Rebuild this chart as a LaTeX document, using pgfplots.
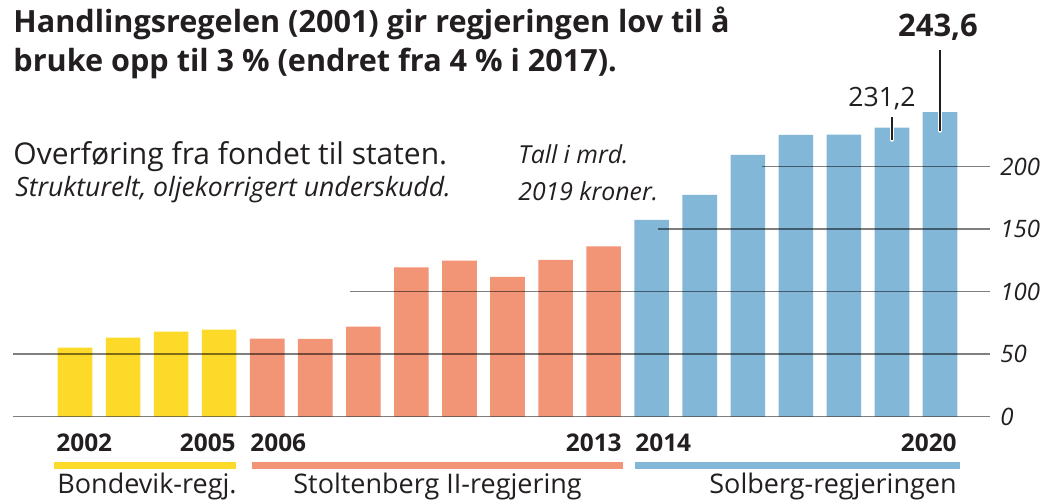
\documentclass[border=0pt]{standalone}
\usepackage{pgfplots}
\pgfplotsset{compat=1.18}
\usepackage{fontspec}
\setmainfont{Open Sans}
\definecolor{cy}{HTML}{FDDA2A}
\definecolor{cs}{HTML}{F29476}
\definecolor{cb}{HTML}{82B7D8}
\definecolor{tc}{HTML}{231F20}
\newcommand\fs[1]{\fontsize{#1}{#1}\selectfont}
\tikzset{tl/.style={anchor=west, inner sep=0pt, xshift=5pt, text=tc, font=\fs{12}\itshape}}
\begin{document}
\begin{tikzpicture}[x=0.5pt,y=0.5pt]
\path[use as bounding box] (0,0) rectangle (1043,502);
\begin{axis}[
  at={(6.5pt,42.65pt)}, anchor=south west,
  scale only axis, width=488.5pt, height=162.5pt,
  xmin=-1.29, xmax=19.04, ymin=0, ymax=260,
  clip=false,
  axis line style={draw=none},
  xtick=\empty, ytick=\empty,
]
\addplot[ybar, bar shift=0pt, bar width=0.72, fill=cy, draw=none]
  coordinates {(0,55.2) (1,63.2) (2,68) (3,69.6)};
\addplot[ybar, bar shift=0pt, bar width=0.72, fill=cs, draw=none]
  coordinates {(4,62.4) (5,62.2) (6,72) (7,119.5) (8,124.8) (9,111.8) (10,125.4) (11,136.2)};
\addplot[ybar, bar shift=0pt, bar width=0.72, fill=cb, draw=none]
  coordinates {(12,157.4) (13,177.4) (14,209.4) (15,225.4) (16,225.6) (17,231.2) (18,243.6)};
\draw[black, opacity=0.5, line width=0.7pt] (axis cs:-1.29,0) -- (axis cs:19.04,0);
\draw[black, opacity=0.5, line width=0.7pt] (axis cs:-1.29,50) -- (axis cs:19.04,50);
\draw[black, opacity=0.5, line width=0.7pt] (axis cs:5.72,100) -- (axis cs:19.04,100);
\draw[black, opacity=0.5, line width=0.7pt] (axis cs:12.13,150) -- (axis cs:19.04,150);
\draw[black, opacity=0.5, line width=0.7pt] (axis cs:14.29,200) -- (axis cs:19.04,200);
\node[tl] at (axis cs:19.04,0) {0};
\node[tl] at (axis cs:19.04,50) {50};
\node[tl] at (axis cs:19.04,100) {100};
\node[tl] at (axis cs:19.04,150) {150};
\node[tl] at (axis cs:19.04,200) {200};
\draw[white, line width=1.8pt, line cap=round] (axis cs:17,221.4) -- (axis cs:17,232);
\draw[tc, line width=0.6pt] (axis cs:17,221.4) -- (axis cs:17,239.8);
\draw[white, line width=1.8pt, line cap=round] (axis cs:18,228.6) -- (axis cs:18,245);
\draw[tc, line width=0.6pt] (axis cs:18,228.6) -- (axis cs:18,293);
\end{axis}
\begin{scope}[every node/.style={inner sep=0pt, text=tc}]
\node[anchor=base west, font=\fs{15.3}\bfseries] at (13,469) {Handlingsregelen (2001) gir regjeringen lov til å};
\node[anchor=base west, font=\fs{15.3}\bfseries] at (13,430) {bruke opp til 3 \% (endret fra 4 \% i 2017).};
\node[anchor=base west, font=\fs{15}] at (13,337) {Overføring fra fondet til staten.};
\node[anchor=base west, font=\fs{13.3}\itshape] at (15,305) {Strukturelt, oljekorrigert underskudd.};
\node[anchor=base west, font=\fs{12.4}\itshape] at (518,338) {Tall i mrd.};
\node[anchor=base west, font=\fs{12.4}\itshape] at (518,301) {2019 kroner.};
\node[anchor=base, font=\fs{13.3}] at (882,395) {231,2};
\node[anchor=base, font=\fs{15.5}\bfseries] at (938,465) {243,6};
\node[anchor=base west, font=\fs{12.2}\bfseries] at (56,50.3) {2002};
\node[anchor=base east, font=\fs{12.2}\bfseries] at (236,50.3) {2005};
\node[anchor=base west, font=\fs{12.2}\bfseries] at (250,50.3) {2006};
\node[anchor=base east, font=\fs{12.2}\bfseries] at (622,50.3) {2013};
\node[anchor=base west, font=\fs{12.2}\bfseries] at (635,50.3) {2014};
\node[anchor=base east, font=\fs{12.2}\bfseries] at (957,50.3) {2020};
\node[anchor=base west, font=\fs{13.5}] at (57,8.7) {Bondevik-regj.};
\node[anchor=base west, font=\fs{13.5}] at (293,8.7) {Stoltenberg II-regjering};
\node[anchor=base east, font=\fs{13.5}] at (957,8.7) {Solberg-regjeringen};
\end{scope}
\fill[cy] (54,33) rectangle (236,40);
\fill[cs] (252,33) rectangle (623,40);
\fill[cb] (635,33) rectangle (960,40);
\end{tikzpicture}
\end{document}
